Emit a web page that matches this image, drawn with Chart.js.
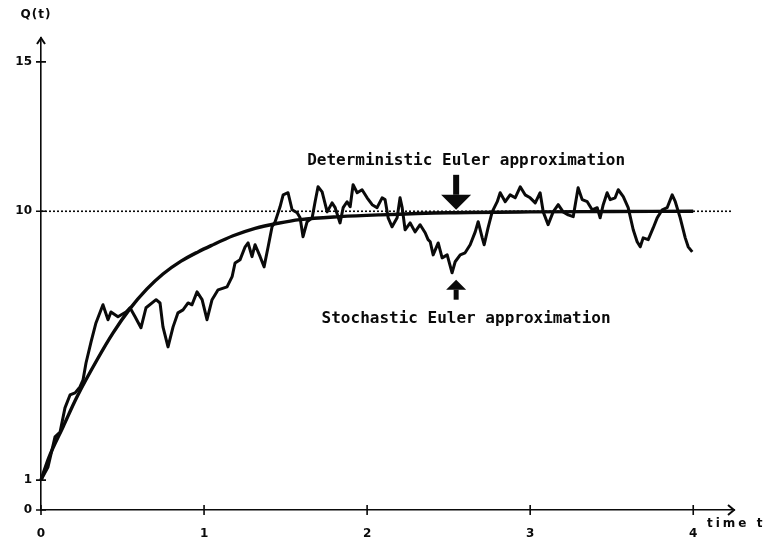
<!DOCTYPE html>
<html>
<head>
<meta charset="utf-8">
<script src="https://cdn.jsdelivr.net/npm/chart.js@4/dist/chart.umd.min.js"></script>
<style>
  html, body { margin: 0; padding: 0; background: #fff; }
  #wrap { width: 765px; height: 543px; }
</style>
</head>
<body>
<div id="wrap"><canvas id="c" width="765" height="543"></canvas></div>
<script>
// Axis ticks
const xTicks = [0, 1, 2, 3, 4];
const yTicks = [0, 1, 10, 15];

// Equilibrium level of Q(t)
const equilibrium = 10;
const equilibriumT = [0, 4.24];

// Deterministic Euler approximation
const detT = [0, 0.05, 0.135, 0.221, 0.344, 0.442, 0.546, 0.65, 0.748, 0.859, 0.963, 1.043,
  1.178, 1.313, 1.454, 1.589, 1.834, 2.08, 2.5, 3, 3.5, 4];
const detQ = [1.0, 1.78, 2.78, 3.79, 5.03, 5.93, 6.74, 7.40, 7.90, 8.33, 8.64, 8.85,
  9.18, 9.43, 9.60, 9.72, 9.82, 9.88, 9.95, 9.98, 9.99, 10.0];

// Stochastic Euler approximation (one sample path)
const stochT = [
  0, 0.043, 0.086, 0.117, 0.147, 0.178, 0.209, 0.239, 0.258, 0.276, 0.307, 0.337, 0.380,
  0.411, 0.429, 0.472, 0.521, 0.546, 0.577, 0.613, 0.644, 0.706, 0.730, 0.748, 0.779,
  0.810, 0.840, 0.871, 0.902, 0.926, 0.957, 0.988, 1.018, 1.049, 1.086, 1.141, 1.172,
  1.190, 1.221, 1.252, 1.270, 1.294, 1.313, 1.344, 1.368, 1.393, 1.417, 1.436, 1.466,
  1.485, 1.515, 1.540, 1.571,
  1.589, 1.607, 1.632, 1.663, 1.681, 1.699, 1.724, 1.755, 1.785, 1.804, 1.834, 1.853,
  1.877, 1.896, 1.914, 1.939, 1.969, 2.000, 2.031, 2.061, 2.092, 2.110, 2.129, 2.153,
  2.184, 2.202, 2.215, 2.233, 2.264, 2.294, 2.325, 2.356, 2.374,
  2.387, 2.405, 2.436, 2.460, 2.491, 2.521, 2.540, 2.571, 2.601, 2.632, 2.663, 2.681,
  2.706, 2.718, 2.742, 2.767, 2.798, 2.816, 2.847, 2.877, 2.908, 2.939, 2.969, 3.000,
  3.031, 3.061, 3.080, 3.110, 3.141, 3.172,
  3.202, 3.233, 3.264, 3.294, 3.319, 3.350, 3.380, 3.411, 3.429, 3.448, 3.472, 3.491,
  3.521, 3.540, 3.571, 3.601, 3.632, 3.656, 3.675, 3.693, 3.724, 3.755, 3.779, 3.810,
  3.840, 3.871, 3.890, 3.920, 3.951, 3.969, 3.994
];
const stochQ = [
  1.0, 1.44, 2.45, 2.61, 3.42, 3.85, 3.92, 4.12, 4.36, 4.92, 5.63, 6.26, 6.87,
  6.37, 6.63, 6.47, 6.63, 6.77, 6.47, 6.10, 6.77, 7.04, 6.93, 6.13, 5.46,
  6.13, 6.60, 6.70, 6.93, 6.87, 7.30, 7.04, 6.37, 7.04, 7.37, 7.47, 7.81,
  8.27, 8.38, 8.81, 8.94, 8.48, 8.88, 8.48, 8.14, 8.81, 9.48, 9.65, 10.15,
  10.55, 10.62, 10.05, 9.95,
  9.78, 9.15, 9.65, 9.78, 10.32, 10.82, 10.65, 9.98, 10.28, 10.12, 9.61, 10.12,
  10.32, 10.15, 10.89, 10.62, 10.72, 10.45, 10.22, 10.12, 10.45, 10.39, 9.78, 9.48,
  9.78, 10.45, 10.12, 9.38, 9.61, 9.31, 9.55, 9.28, 9.05,
  8.98, 8.54, 8.94, 8.44, 8.54, 7.94, 8.31, 8.54, 8.61, 8.88, 9.31, 9.65,
  9.11, 8.88, 9.45, 9.98, 10.32, 10.62, 10.32, 10.55, 10.45, 10.82, 10.55, 10.45,
  10.28, 10.62, 9.98, 9.55, 9.98, 10.22,
  9.98, 9.88, 9.82, 10.79, 10.39, 10.32, 10.05, 10.12, 9.78, 10.22, 10.62, 10.39,
  10.45, 10.72, 10.49, 10.12, 9.38, 8.98, 8.81, 9.11, 9.05, 9.45, 9.78, 10.05,
  10.12, 10.55, 10.32, 9.78, 9.11, 8.81, 8.64
];

// Annotation anchors, in data units
const detLabel = { text: 'Deterministic Euler approximation', t: 2.607, q: 11.69 };
const stochLabel = { text: 'Stochastic Euler approximation', t: 2.607, q: 6.40 };
const detArrow = { t: 2.546, from: 11.22, to: 10.05 };
const stochArrow = { t: 2.546, from: 7.04, to: 7.71 };

const zip = (xs, ys) => xs.map((x, i) => ({ x, y: ys[i] }));

const INK = '#0a0a0a';
const tickFont = { family: '"DejaVu Sans", sans-serif', size: 12, weight: 'bold' };
const noteFont = 'bold 16px "DejaVu Sans Mono", monospace';

// Axis arrowheads, crossing tick marks, axis names and annotations
const decorations = {
  id: 'decorations',
  afterDatasetsDraw(chart) {
    const { ctx, chartArea: a, scales: { x, y } } = chart;
    const x0 = x.getPixelForValue(0);
    const y0 = y.getPixelForValue(0);
    ctx.save();
    ctx.strokeStyle = INK;
    ctx.fillStyle = INK;
    ctx.lineWidth = 1.6;

    // crossing tick marks
    ctx.beginPath();
    x.ticks.forEach(tk => {
      const px = x.getPixelForValue(tk.value);
      ctx.moveTo(px, y0 - 5); ctx.lineTo(px, y0 + 5);
    });
    y.ticks.forEach(tk => {
      const py = y.getPixelForValue(tk.value);
      ctx.moveTo(x0 - 5, py); ctx.lineTo(x0 + 5, py);
    });
    ctx.stroke();

    // arrowheads at the axis ends
    ctx.lineWidth = 2;
    ctx.beginPath();
    ctx.moveTo(a.right - 6, y0 - 5); ctx.lineTo(a.right, y0); ctx.lineTo(a.right - 6, y0 + 5);
    ctx.moveTo(x0 - 4, a.top + 6); ctx.lineTo(x0, a.top); ctx.lineTo(x0 + 4, a.top + 6);
    ctx.stroke();

    // axis names
    ctx.font = 'bold 12px "DejaVu Sans", sans-serif';
    ctx.textBaseline = 'middle';
    ctx.textAlign = 'center';
    ctx.letterSpacing = '1px';
    ctx.fillText('Q(t)', x0 - 5, a.top - 23);
    ctx.textAlign = 'left';
    ctx.letterSpacing = '3px';
    ctx.fillText('time t', a.right - 27, y0 + 14);
    ctx.letterSpacing = '0px';

    // annotation texts
    ctx.font = noteFont;
    ctx.textAlign = 'center';
    [detLabel, stochLabel].forEach(l => {
      ctx.fillText(l.text, x.getPixelForValue(l.t), y.getPixelForValue(l.q));
    });

    // annotation arrows
    const arrow = (t, qFrom, qTo, shaftW, headW, headL) => {
      const px = x.getPixelForValue(t);
      const p1 = y.getPixelForValue(qFrom);
      const p2 = y.getPixelForValue(qTo);
      const dir = Math.sign(p2 - p1);
      const base = p2 - dir * headL;
      ctx.fillRect(px - shaftW / 2, Math.min(p1, base), shaftW, Math.abs(base - p1));
      ctx.beginPath();
      ctx.moveTo(px - headW / 2, base);
      ctx.lineTo(px, p2);
      ctx.lineTo(px + headW / 2, base);
      ctx.closePath();
      ctx.fill();
    };
    arrow(detArrow.t, detArrow.from, detArrow.to, 6, 30, 15);
    arrow(stochArrow.t, stochArrow.from, stochArrow.to, 5, 20, 10);
    ctx.restore();
  }
};

new Chart(document.getElementById('c'), {
  type: 'line',
  data: {
    datasets: [
      {
        data: zip(equilibriumT, equilibriumT.map(() => equilibrium)),
        borderColor: INK, borderWidth: 1.6, borderDash: [2, 2],
        pointRadius: 0, tension: 0, clip: false
      },
      {
        data: zip(detT, detQ),
        borderColor: INK, borderWidth: 3.4,
        cubicInterpolationMode: 'monotone',
        pointRadius: 0, clip: false
      },
      {
        data: zip(stochT, stochQ),
        borderColor: INK, borderWidth: 3, borderJoinStyle: 'round',
        pointRadius: 0, tension: 0, clip: false
      }
    ]
  },
  options: {
    responsive: false,
    animation: false,
    devicePixelRatio: 1,
    layout: { padding: { top: 38, right: 31, left: 0, bottom: 0 } },
    plugins: { legend: { display: false }, tooltip: { enabled: false } },
    scales: {
      x: {
        type: 'linear', min: 0, max: 4.25,
        afterBuildTicks: s => { s.ticks = xTicks.map(v => ({ value: v })); },
        afterFit: s => { s.height = 33; },
        grid: { display: false, drawTicks: false },
        border: { display: true, color: INK, width: 1.6 },
        ticks: { color: INK, font: tickFont, padding: 17, maxRotation: 0 }
      },
      y: {
        type: 'linear', min: 0, max: 15.8,
        afterBuildTicks: s => { s.ticks = yTicks.map(v => ({ value: v })); },
        afterFit: s => { s.width = 41; },
        grid: { display: false, drawTicks: false },
        border: { display: true, color: INK, width: 1.6 },
        ticks: { color: INK, font: tickFont, padding: 9 }
      }
    }
  },
  plugins: [decorations]
});
</script>
</body>
</html>
